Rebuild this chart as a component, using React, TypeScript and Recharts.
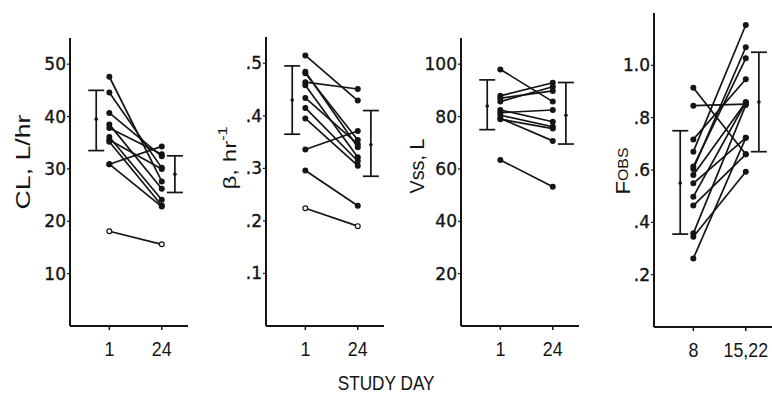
import React from 'react';
import { ScatterChart, Scatter, XAxis, YAxis, ErrorBar } from 'recharts';

// study day tick labels
const daysA = ['1', '24'];
const daysB = ['8', '15,22'];

// CL, L/hr  (day 1 -> day 24, one pair per subject)
const clDay1 = [47.6, 44.6, 40.7, 38.5, 37.8, 36.1, 35.5, 35.2, 30.9, 30.9, 18.1];
const clDay24 = [27.6, 30.2, 32.4, 26.2, 32.8, 24.1, 30.0, 23.0, 34.3, 22.8, 15.6];
const clMeans = [39.5, 29.0];
const clLow = [33.5, 25.5];
const clHigh = [45.0, 32.5];

// beta, hr^-1
const betaDay1 = [0.515, 0.484, 0.481, 0.464, 0.458, 0.434, 0.415, 0.395, 0.336, 0.296, 0.224];
const betaDay24 = [0.429, 0.340, 0.354, 0.451, 0.321, 0.346, 0.314, 0.305, 0.371, 0.229, 0.19];
const betaMeans = [0.43, 0.345];
const betaLow = [0.365, 0.285];
const betaHigh = [0.495, 0.41];

// Vss, L
const vssDay1 = [98.0, 87.9, 87.0, 85.7, 82.5, 81.5, 80.5, 79.3, 79.0, 63.4];
const vssDay24 = [85.7, 92.9, 89.8, 91.4, 78.0, 82.5, 76.1, 70.7, 75.4, 53.2];
const vssMeans = [84.0, 80.5];
const vssLow = [75.0, 69.5];
const vssHigh = [94.0, 93.0];

// F obs (day 8 -> day 15,22)
const fDay8 = [0.914, 0.846, 0.717, 0.67, 0.613, 0.604, 0.581, 0.549, 0.498, 0.464, 0.358, 0.345, 0.262];
const fDay15 = [0.66, 0.852, 0.947, 1.154, 1.027, 1.069, 0.859, 0.723, 0.859, 0.66, 0.848, 0.593, 0.723];
const fMeans = [0.55, 0.86];
const fLow = [0.355, 0.67];
const fHigh = [0.75, 1.05];

const INK = '#141414';
const TICK_FONT = '"DejaVu Sans", "Liberation Sans", sans-serif';
const SANS = '"Liberation Sans", Arial, sans-serif';

const AxisTitle = (props: any) => {
  const { tx, ty, len, size, parts } = props;
  return (
    <text
      x={tx}
      y={ty}
      transform={`rotate(-90, ${tx}, ${ty})`}
      textAnchor="middle"
      dominantBaseline="central"
      fontFamily={SANS}
      fontSize={size}
      fill={INK}
      textLength={len}
      lengthAdjust="spacingAndGlyphs"
    >
      {parts}
    </text>
  );
};

// condensed day labels under the x axis
const DayTick = (props: any) => {
  const { x, y, payload, labels } = props;
  const label = payload.value === 3 ? labels[0] : labels[1];
  return (
    <g transform={`translate(${x}, ${y}) scale(0.85, 1)`}>
      <text x={0} y={0} dy="0.75em" textAnchor="middle" fontSize={21} fontFamily={SANS} fill={INK}>
        {label}
      </text>
    </g>
  );
};

type PanelProps = {
  axisX: number;
  top: number;
  bottom: number;
  yMax: number;
  yTicks: number[];
  fmt: (v: number) => string;
  xLabels: string[];
  first: number[];
  second: number[];
  openIdx: number;
  means: number[];
  low: number[];
  high: number[];
  title: any;
};

const YW = 60;
const PW = 118;

function Panel(p: PanelProps) {
  const pairs = p.first.map((v, i) => [
    { x: 3, y: v },
    { x: 7, y: p.second[i] },
  ]);
  const bars = p.means.map((m, i) => ({
    x: i === 0 ? 2 : 8,
    y: m,
    err: [m - p.low[i], p.high[i] - m],
  }));
  return (
    <div style={{ position: 'absolute', left: p.axisX - YW, top: 0 }}>
      <ScatterChart
        width={YW + PW}
        height={396}
        margin={{ top: p.top, right: 0, bottom: 0, left: 0 }}
      >
        <XAxis
          type="number"
          dataKey="x"
          domain={[0, 9]}
          ticks={[3, 7]}
          height={396 - p.bottom}
          axisLine={{ stroke: INK, strokeWidth: 2 }}
          tickLine={{ stroke: INK, strokeWidth: 1.5 }}
          tickSize={4}
          tickMargin={10}
          tick={<DayTick labels={p.xLabels} />}
          allowDataOverflow
        />
        <YAxis
          type="number"
          dataKey="y"
          domain={[0, p.yMax]}
          ticks={p.yTicks}
          tickFormatter={p.fmt}
          width={YW}
          axisLine={{ stroke: INK, strokeWidth: 2 }}
          tickLine={{ stroke: INK, strokeWidth: 1.2 }}
          tickSize={3}
          tickMargin={1}
          tick={{ fill: INK, fontSize: 17, fontFamily: TICK_FONT, stroke: INK, strokeWidth: 0.35 }}
          allowDataOverflow
          label={p.title}
        />
        {pairs.map((d, i) => (
          <Scatter
            key={i}
            data={d}
            isAnimationActive={false}
            line={{ stroke: INK, strokeWidth: 1.7 }}
            shape={(s: any) => (
              <circle
                cx={s.cx}
                cy={s.cy}
                r={2.4}
                fill={i === p.openIdx ? '#fff' : INK}
                stroke={INK}
                strokeWidth={1.2}
              />
            )}
          />
        ))}
        <Scatter
          data={bars}
          isAnimationActive={false}
          shape={(s: any) => <circle cx={s.cx} cy={s.cy} r={1.8} fill={INK} />}
        >
          <ErrorBar
            dataKey="err"
            direction="y"
            width={8}
            stroke={INK}
            strokeWidth={1.7}
            isAnimationActive={false}
          />
        </Scatter>
      </ScatterChart>
    </div>
  );
}

const dec = (v: number) => (v >= 1 ? v.toFixed(1) : v.toFixed(1).replace(/^0/, ''));

export default function App() {
  return (
    <div
      style={{
        position: 'absolute',
        left: 0,
        top: 0,
        width: 772,
        height: 396,
        background: '#fff',
        overflow: 'hidden',
      }}
    >
      <Panel
        axisX={70}
        top={38}
        bottom={326}
        yMax={55}
        yTicks={[10, 20, 30, 40, 50]}
        fmt={(v) => String(v)}
        xLabels={daysA}
        first={clDay1}
        second={clDay24}
        openIdx={10}
        means={clMeans}
        low={clLow}
        high={clHigh}
        title={<AxisTitle tx={12} ty={162} len={95} size={21} parts="CL, L/hr" />}
      />
      <Panel
        axisX={266}
        top={37}
        bottom={326}
        yMax={0.55}
        yTicks={[0.1, 0.2, 0.3, 0.4, 0.5]}
        fmt={dec}
        xLabels={daysA}
        first={betaDay1}
        second={betaDay24}
        openIdx={10}
        means={betaMeans}
        low={betaLow}
        high={betaHigh}
        title={
          <AxisTitle
            tx={-36 + YW}
            ty={158}
            len={63}
            size={18}
            parts={[
              <tspan key="a">β, hr</tspan>,
              <tspan key="b" fontSize={12} dy={-7}>-1</tspan>,
            ]}
          />
        }
      />
      <Panel
        axisX={461}
        top={38}
        bottom={326}
        yMax={110}
        yTicks={[20, 40, 60, 80, 100]}
        fmt={(v) => String(v)}
        xLabels={daysA}
        first={vssDay1}
        second={vssDay24}
        openIdx={-1}
        means={vssMeans}
        low={vssLow}
        high={vssHigh}
        title={<AxisTitle tx={-45 + YW} ty={166} len={55} size={21} parts="Vss, L" />}
      />
      <Panel
        axisX={654}
        top={13}
        bottom={327}
        yMax={1.2}
        yTicks={[0.2, 0.4, 0.6, 0.8, 1.0]}
        fmt={dec}
        xLabels={daysB}
        first={fDay8}
        second={fDay15}
        openIdx={-1}
        means={fMeans}
        low={fLow}
        high={fHigh}
        title={
          <AxisTitle
            tx={-32 + YW}
            ty={171}
            len={47}
            size={21}
            parts={[
              <tspan key="a">F</tspan>,
              <tspan key="b" fontSize={15}>OBS</tspan>,
            ]}
          />
        }
      />
      <div
        style={{
          position: 'absolute',
          left: 0,
          width: 772,
          top: 371,
          textAlign: 'center',
          fontFamily: SANS,
          fontSize: 21,
          color: INK,
        }}
      >
        <span style={{ display: 'inline-block', transform: 'scaleX(0.82)' }}>STUDY DAY</span>
      </div>
    </div>
  );
}
